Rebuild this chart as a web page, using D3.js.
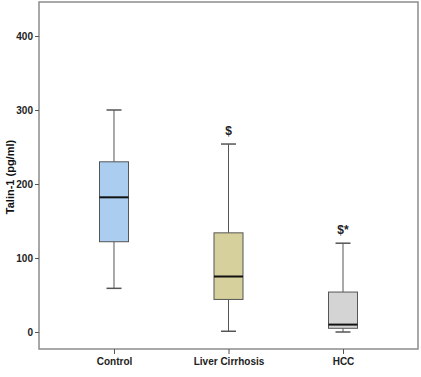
<!DOCTYPE html>
<html><head><meta charset="utf-8">
<script src="https://cdn.jsdelivr.net/npm/d3@7"></script>
<style>body{margin:0;background:#fff}svg{display:block}text{font-family:Arial,"Liberation Sans",sans-serif}</style>
</head><body><svg id="c" width="421" height="377"></svg>
<script>
const categories = ["Control", "Liver Cirrhosis", "HCC"];
const whiskerLow = [59, 1, 0];
const q1 = [122, 44, 5];
const median = [182, 75, 10];
const q3 = [230, 134, 54];
const whiskerHigh = [300, 254, 120];
const annotations = ["", "$", "$*"];
const colors = ["#abcdf0", "#d6d09c", "#d4d4d4"];
const yTicks = [0, 100, 200, 300, 400];

const svg = d3.select("#c");
const L = 39, R = 418, T = 2, B = 349;
const x = d3.scalePoint().domain(categories).range([L, R]).padding(0.655);
const y = d3.scaleLinear().domain([0, 400]).range([332, 36]);

// frame
svg.append("rect").attr("x", L).attr("y", T).attr("width", R - L).attr("height", B - T)
  .attr("fill", "none").attr("stroke", "#8c8c8c").attr("stroke-width", 1.5);

// y axis
const ya = svg.append("g").attr("transform", `translate(${L},0)`)
  .call(d3.axisLeft(y).tickValues(yTicks).tickSize(4).tickPadding(2));
ya.select(".domain").remove();
ya.selectAll("line").attr("stroke", "#555");
ya.selectAll("text").attr("font-size", 10).attr("font-weight", "bold").attr("fill", "#222");

// x axis
const xa = svg.append("g").attr("transform", `translate(0,${B})`)
  .call(d3.axisBottom(x).tickSize(5).tickPadding(4));
xa.select(".domain").remove();
xa.selectAll("line").attr("stroke", "#555");
xa.selectAll("text").attr("font-size", 10).attr("font-weight", "bold").attr("fill", "#222");

// y label
svg.append("text").attr("transform", "translate(14,177) rotate(-90)")
  .attr("text-anchor", "middle").attr("font-size", 11).attr("font-weight", "bold")
  .attr("fill", "#111").text("Talin-1 (pg/ml)");

const bw = 29, cw = 15;
categories.forEach((c, i) => {
  const cx = x(c);
  const g = svg.append("g");
  g.append("line").attr("x1", cx).attr("x2", cx).attr("y1", y(whiskerHigh[i])).attr("y2", y(q3[i]))
    .attr("stroke", "#555").attr("stroke-width", 1);
  g.append("line").attr("x1", cx).attr("x2", cx).attr("y1", y(q1[i])).attr("y2", y(whiskerLow[i]))
    .attr("stroke", "#555").attr("stroke-width", 1);
  g.append("line").attr("x1", cx - cw / 2).attr("x2", cx + cw / 2).attr("y1", y(whiskerHigh[i])).attr("y2", y(whiskerHigh[i]))
    .attr("stroke", "#555").attr("stroke-width", 1.5);
  g.append("line").attr("x1", cx - cw / 2).attr("x2", cx + cw / 2).attr("y1", y(whiskerLow[i])).attr("y2", y(whiskerLow[i]))
    .attr("stroke", "#555").attr("stroke-width", 1.5);
  g.append("rect").attr("x", cx - bw / 2).attr("width", bw).attr("y", y(q3[i])).attr("height", y(q1[i]) - y(q3[i]))
    .attr("fill", colors[i]).attr("stroke", "#555").attr("stroke-width", 1);
  g.append("line").attr("x1", cx - bw / 2).attr("x2", cx + bw / 2).attr("y1", y(median[i])).attr("y2", y(median[i]))
    .attr("stroke", "#111").attr("stroke-width", 2);
  if (annotations[i]) {
    g.append("text").attr("x", cx).attr("y", y(whiskerHigh[i]) - 9).attr("text-anchor", "middle")
      .attr("font-size", 12).attr("font-weight", "bold").attr("fill", "#222").text(annotations[i]);
  }
});
</script></body></html>
